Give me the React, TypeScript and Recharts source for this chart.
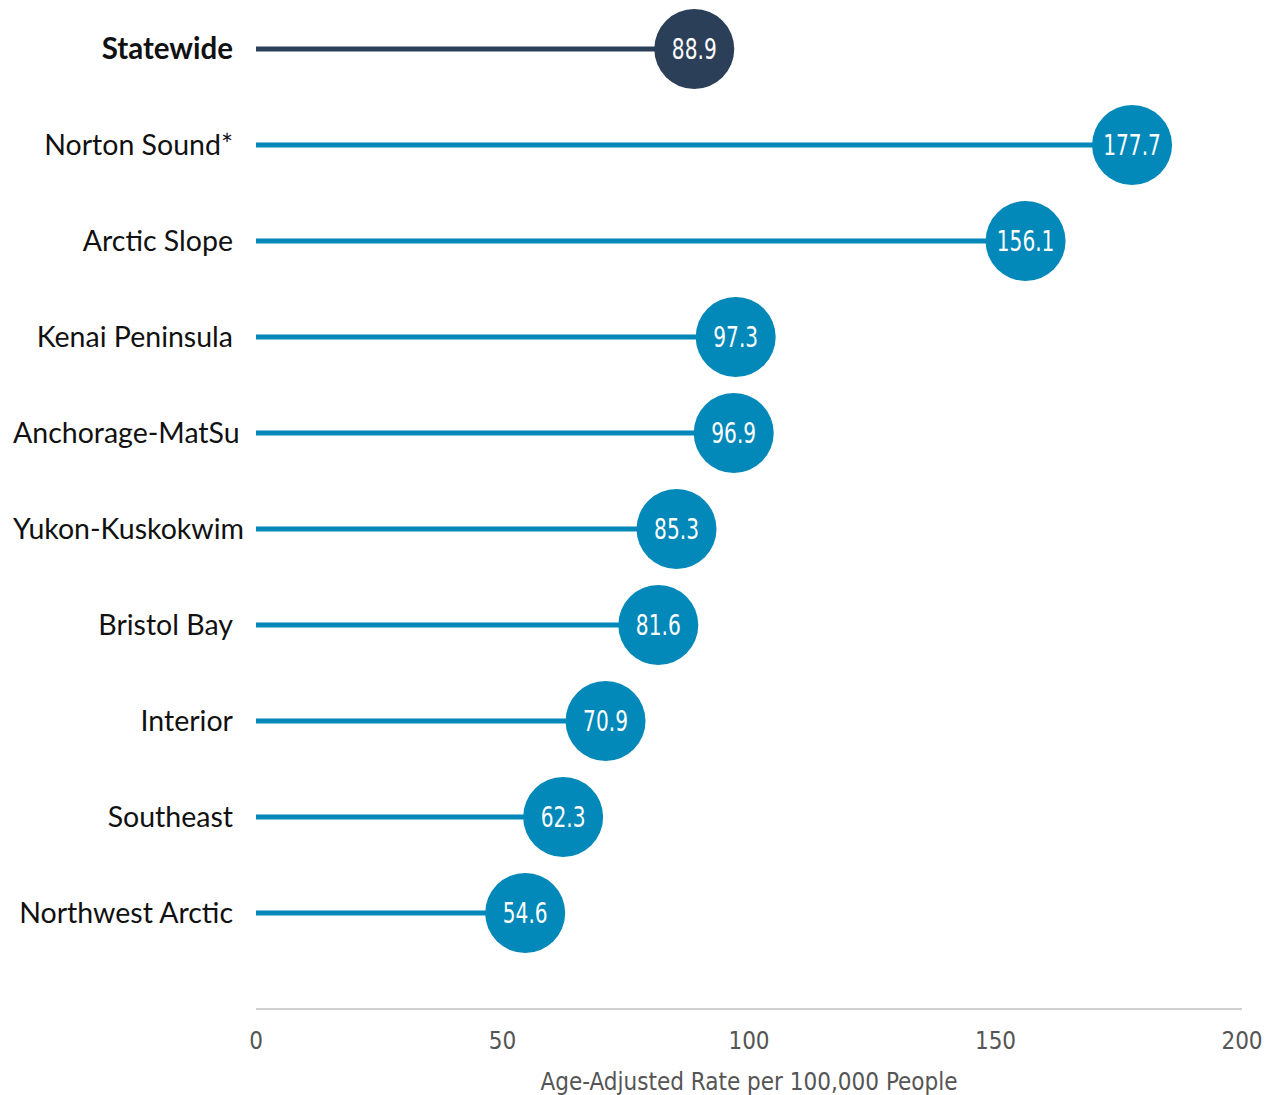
import React from "react";
import { ComposedChart, Bar, XAxis, YAxis } from "recharts";

const regions = [
  "Statewide",
  "Norton Sound*",
  "Arctic Slope",
  "Kenai Peninsula",
  "Anchorage-MatSu",
  "Yukon-Kuskokwim",
  "Bristol Bay",
  "Interior",
  "Southeast",
  "Northwest Arctic",
];
const rates = [88.9, 177.7, 156.1, 97.3, 96.9, 85.3, 81.6, 70.9, 62.3, 54.6];
const xTicks = [0, 50, 100, 150, 200];

const data = regions.map((region, i) => ({ region, rate: rates[i] }));

const LABEL_FONT = "Lato, 'Open Sans', sans-serif";
const VALUE_FONT = "'Liberation Sans Narrow', 'DejaVu Sans Condensed', sans-serif";

let canvasCtx: CanvasRenderingContext2D | null = null;
function measure(text: string, font: string): number {
  if (!canvasCtx) {
    const c = document.createElement("canvas");
    canvasCtx = c.getContext("2d");
  }
  if (!canvasCtx) return text.length * 14;
  canvasCtx.font = font;
  return canvasCtx.measureText(text).width;
}

const YTick = (props: any) => {
  const { y, payload } = props;
  const label = String(payload.value);
  const bold = label === "Statewide";
  const size = bold ? 29.5 : 28.5;
  const font = `${bold ? "bold" : "normal"} ${size}px Lato`;
  const w = measure(label, font);
  const rightX = 233;
  const leftMin = 13;
  const useStart = rightX - w < leftMin;
  return (
    <text
      x={useStart ? leftMin : rightX}
      y={y}
      dy={9.5}
      textAnchor={useStart ? "start" : "end"}
      fontFamily={LABEL_FONT}
      fontSize={size}
      fontWeight={bold ? 700 : 400}
      fill="#111"
    >
      {label}
    </text>
  );
};

const Lollipop = (props: any) => {
  const { x, y, width, height, payload } = props;
  const cy = y + height / 2;
  const isState = payload.region === "Statewide";
  const color = isState ? "#2c3f58" : "#0288b9";
  const end = x + width;
  return (
    <g>
      <line x1={x} y1={cy} x2={end} y2={cy} stroke={color} strokeWidth={5} />
      <circle cx={end} cy={cy} r={40} fill={color} />
      <g transform={`translate(${end},${cy}) scale(0.8,1)`}>
        <text
          x={0}
          y={0}
          dy={10}
          textAnchor="middle"
          fill="#fff"
          fontFamily={VALUE_FONT}
          fontSize={28}
        >
          {payload.rate.toFixed(1)}
        </text>
      </g>
    </g>
  );
};

export default function App() {
  return (
    <div style={{ position: "absolute", left: 0, top: 0, width: 1266, height: 1095, background: "#fff" }}>
      <ComposedChart
        width={1266}
        height={1095}
        layout="vertical"
        data={data}
        margin={{ top: 0, right: 24, bottom: 0, left: 0 }}
      >
        <XAxis
          type="number"
          dataKey="rate"
          domain={[0, 200]}
          ticks={xTicks}
          height={86}
          axisLine={{ stroke: "#d0d0d0", strokeWidth: 2 }}
          tickLine={false}
          tick={{ fill: "#555", fontSize: 24, fontFamily: VALUE_FONT }}
          tickMargin={17}
          label={{
            value: "Age-Adjusted Rate per 100,000 People",
            position: "insideBottom",
            offset: 5,
            fill: "#555",
            fontSize: 24,
            fontFamily: VALUE_FONT,
          }}
        />
        <YAxis
          type="category"
          dataKey="region"
          width={256}
          axisLine={false}
          tickLine={false}
          tick={<YTick />}
          interval={0}
          padding={{ top: 1, bottom: 48 }}
        />
        <Bar dataKey="rate" barSize={10} shape={<Lollipop />} isAnimationActive={false} />
      </ComposedChart>
    </div>
  );
}
